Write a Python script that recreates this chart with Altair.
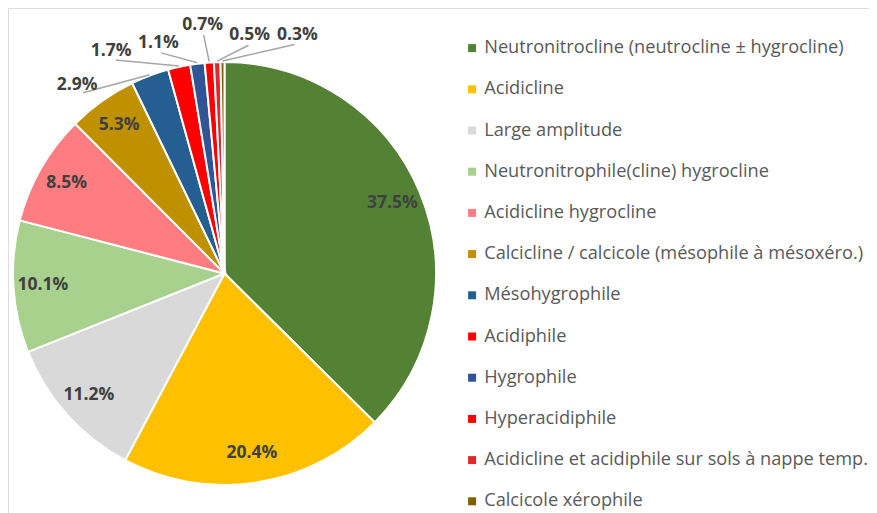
import altair as alt
import pandas as pd

categories = [
    "Neutronitrocline (neutrocline ± hygrocline)",
    "Acidicline",
    "Large amplitude",
    "Neutronitrophile(cline) hygrocline",
    "Acidicline hygrocline",
    "Calcicline / calcicole (mésophile à mésoxéro.)",
    "Mésohygrophile",
    "Acidiphile",
    "Hygrophile",
    "Hyperacidiphile",
    "Acidicline et acidiphile sur sols à nappe temp.",
    "Calcicole xérophile",
]
values = [37.5, 20.4, 11.2, 10.1, 8.5, 5.3, 2.9, 1.7, 1.1, 0.7, 0.5, 0.3]
colors = [
    "#548235", "#FFC000", "#D9D9D9", "#A9D18E", "#FF7C80", "#BF9000",
    "#255E91", "#FF0000", "#2F5597", "#FF0000", "#E0282D", "#7F6000",
]

df = pd.DataFrame({"cat": categories, "value": values, "idx": list(range(len(values)))})

W, H = 861, 505
CX, CY, R = 216.5, 265.5, 211.5
R_IN = 182

color_scale = alt.Scale(domain=categories, range=colors)

base = (
    alt.Chart(df)
    .transform_joinaggregate(total="sum(value)")
    .transform_window(cum="sum(value)", sort=[alt.SortField("idx")], frame=[None, 0])
    .transform_calculate(
        mid="(datum.cum - datum.value/2)/datum.total*2*PI",
        label="format(datum.value, '.1f') + '%'",
    )
)

pie = alt.Chart(df).mark_arc(outerRadius=R, stroke="white", strokeWidth=2).encode(
    theta=alt.Theta("value:Q", stack=True),
    order=alt.Order("idx:Q"),
    color=alt.Color(
        "cat:N",
        scale=color_scale,
        title=None,
        legend=alt.Legend(
            orient="none",
            legendX=455,
            legendY=31,
            symbolType="square",
            symbolSize=64,
            symbolStrokeWidth=0,
            labelFont="Open Sans",
            labelFontSize=18.2,
            labelColor="#595959",
            labelOffset=3,
            labelLimit=500,
            rowPadding=22.2,
            padding=0,
        ),
    ),
    x=alt.value(CX),
    y=alt.value(CY),
)

LABEL_FONT = dict(font="Open Sans", fontWeight="bold", fontSize=17.5, color="#404040")

inside = (
    base.transform_filter("datum.value >= 5")
    .transform_calculate(
        lx=f"{CX} + {R_IN}*sin(datum.mid)",
        ly=f"{CY} - {R_IN}*cos(datum.mid)",
    )
    .mark_text(**LABEL_FONT)
    .encode(
        x=alt.X("lx:Q", scale=None),
        y=alt.Y("ly:Q", scale=None),
        text="label:N",
    )
)

small = (
    base.transform_filter("datum.value < 5")
    .transform_window(k="row_number()", sort=[alt.SortField("idx")])
    .transform_calculate(
        la="(322 + 11*(datum.k-1))*PI/180",
        lr=f"{R} + 28 + 10*((datum.k-1)%2)",
    )
    .transform_calculate(
        lx=f"{CX} + datum.lr*sin(datum.la)",
        ly=f"{CY} - datum.lr*cos(datum.la)",
        sx=f"{CX} + {R + 1}*sin(datum.mid)",
        sy=f"{CY} - {R + 1}*cos(datum.mid)",
        ex=f"{CX} + (datum.lr-10)*sin(datum.la)",
        ey=f"{CY} - (datum.lr-10)*cos(datum.la)",
    )
)

leaders = small.mark_rule(color="#A6A6A6", strokeWidth=1.5).encode(
    x=alt.X("sx:Q", scale=None),
    y=alt.Y("sy:Q", scale=None),
    x2="ex:Q",
    y2="ey:Q",
)

outside = small.mark_text(**LABEL_FONT).encode(
    x=alt.X("lx:Q", scale=None),
    y=alt.Y("ly:Q", scale=None),
    text="label:N",
)

chart = (
    alt.layer(pie, leaders, inside, outside)
    .properties(width=W, height=H, padding=0, autosize=alt.AutoSizeParams(type="none"))
    .configure_view(stroke=None)
    .configure(background="white")
)

chart.save("out.html", embed_options={"renderer": "svg", "actions": False})
